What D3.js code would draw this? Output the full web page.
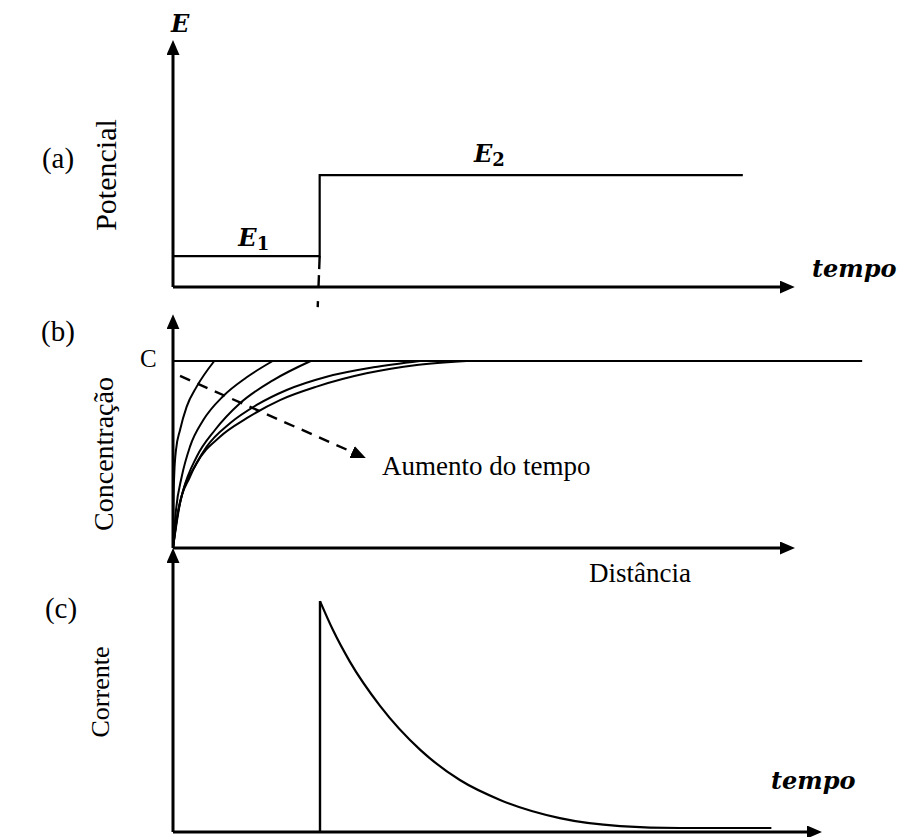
<!DOCTYPE html>
<html>
<head>
<meta charset="utf-8">
<script src="https://cdn.jsdelivr.net/npm/d3@7"></script>
<style>
  html, body { margin: 0; padding: 0; background: #fff; }
  svg { display: block; }
</style>
</head>
<body>
<script>
// ---------- DATA ----------
// Panel (a): potential step (time units 0..100, potential units 0..10)
const potentialTime  = [0, 22.6, 87.8];
const potentialValue = [1.25, 4.53, 4.53];
const stepLabels = ["E", "1", "E", "2"];

// Panel (b): concentration profiles (distance 0..100, C = 1)
const curve1X = [0, 0.08, 0.21, 0.48, 1.13, 2.2, 3.81, 6.64];
const curve1Y = [0, 0.257, 0.401, 0.524, 0.631, 0.756, 0.863, 1.0];
const curve2X = [0, 0.48, 1.4, 2.73, 4.87, 8.09, 11.85, 16.03];
const curve2Y = [0, 0.203, 0.381, 0.542, 0.684, 0.813, 0.913, 1.0];
const curve3X = [0, 0.59, 1.66, 3.81, 6.75, 10.77, 16.13, 22.14];
const curve3Y = [0, 0.150, 0.310, 0.488, 0.631, 0.774, 0.898, 1.0];
const curve4X = [0, 0.85, 2.73, 5.42, 9.16, 13.46, 18.28, 24.71, 32.2, 39.7];
const curve4Y = [0, 0.203, 0.381, 0.542, 0.667, 0.765, 0.845, 0.916, 0.966, 1.0];
const curve5X = [0, 1.13, 3.81, 7.56, 11.85, 17.2, 23.1, 31.1, 39.2, 47.2];
const curve5Y = [0, 0.239, 0.453, 0.595, 0.694, 0.791, 0.863, 0.934, 0.979, 1.0];
const bulkLineX = [0, 110.8];
const bulkValue = 1;
const timeArrowX = [1.13, 31.0];
const timeArrowY = [0.920, 0.481];

// Panel (c): current transient (time units 0..100, current 0..10)
const currentTime  = [22.65, 24.65, 27.27, 31.9, 38.1, 44.2, 50.4, 59.6, 68.9, 78.1, 92.2];
const currentValue = [8.13, 7.11, 5.99, 4.44, 2.89, 1.83, 1.13, 0.49, 0.21, 0.14, 0.14];

// axis extents (in data units)
const potAxisTimeEnd = 95.8, potAxisMax = 10;
const concAxisDistEnd = 100, concAxisMax = 1.25;
const curAxisTimeEnd = 100, curAxisMax = 10;

// ---------- SCALES ----------
const W = 904, H = 837;
const xTime = d3.scaleLinear().domain([0, 100]).range([173, 822]);
const yPot  = d3.scaleLinear().domain([0, 10]).range([287, 40]);
const xDist = d3.scaleLinear().domain([0, 100]).range([173, 795]);
const yConc = d3.scaleLinear().domain([0, 1]).range([548, 361]);
const yCur  = d3.scaleLinear().domain([0, 10]).range([832, 548]);

const svg = d3.select("body").append("svg")
  .attr("width", W).attr("height", H)
  .attr("viewBox", `0 0 ${W} ${H}`);
svg.append("rect").attr("width", W).attr("height", H).attr("fill", "#fff");

const defs = svg.append("defs");
defs.append("marker")
  .attr("id", "arrow").attr("markerUnits", "userSpaceOnUse")
  .attr("markerWidth", 16).attr("markerHeight", 14)
  .attr("refX", 5).attr("refY", 6.5).attr("orient", "auto")
  .append("path").attr("d", "M0,0 L15,6.5 L0,13 Z").attr("fill", "#000");

const serif = "'Liberation Serif','Times New Roman',serif";
const mathFont = "'DejaVu Serif',serif";

function arrowLine(x1, y1, x2, y2, width, dash) {
  const dx = x2 - x1, dy = y2 - y1, len = Math.hypot(dx, dy);
  const ex = x2 - dx / len * 10, ey = y2 - dy / len * 10;
  const l = svg.append("line")
    .attr("x1", x1).attr("y1", y1).attr("x2", ex).attr("y2", ey)
    .attr("stroke", "#000").attr("stroke-width", width)
    .attr("marker-end", "url(#arrow)");
  if (dash) l.attr("stroke-dasharray", dash);
  return l;
}

// ---------- PANEL (a) ----------
arrowLine(xTime(0), yPot(0), xTime(0), yPot(potAxisMax), 3);
arrowLine(xTime(0), yPot(0), xTime(potAxisTimeEnd), yPot(0), 3);

const potLine = d3.line()
  .x((d, i) => xTime(potentialTime[i]))
  .y((d, i) => yPot(potentialValue[i]))
  .curve(d3.curveStepAfter);
svg.append("path").datum(potentialTime).attr("d", potLine)
  .attr("fill", "none").attr("stroke", "#000").attr("stroke-width", 2.2);

svg.append("line")
  .attr("x1", xTime(potentialTime[1])).attr("x2", xTime(potentialTime[1]) - 2)
  .attr("y1", yPot(potentialValue[0])).attr("y2", 308)
  .attr("stroke", "#000").attr("stroke-width", 2.4)
  .attr("stroke-dasharray", "13 6 12 14 6");

svg.append("text").attr("x", 171).attr("y", 32)
  .attr("font-family", mathFont).attr("font-weight", "bold").attr("font-style", "italic")
  .attr("font-size", 24).text("E");

const e1 = svg.append("text")
  .attr("x", (xTime(0) + xTime(potentialTime[1])) / 2 - 8).attr("y", yPot(potentialValue[0]) - 10)
  .attr("font-family", mathFont).attr("font-weight", "bold").attr("font-style", "italic")
  .attr("font-size", 24);
e1.append("tspan").text(stepLabels[0]);
e1.append("tspan").attr("dy", 4).attr("font-size", 18).attr("font-style", "normal").text(stepLabels[1]);

const e2 = svg.append("text")
  .attr("x", 474).attr("y", yPot(potentialValue[1]) - 13)
  .attr("font-family", mathFont).attr("font-weight", "bold").attr("font-style", "italic")
  .attr("font-size", 24);
e2.append("tspan").text(stepLabels[2]);
e2.append("tspan").attr("dy", 4).attr("font-size", 18).attr("font-style", "normal").text(stepLabels[3]);

svg.append("text").attr("x", 812).attr("y", 277)
  .attr("font-family", mathFont).attr("font-weight", "bold").attr("font-style", "italic")
  .attr("font-size", 24).text("tempo");

svg.append("text").attr("transform", "translate(116,175) rotate(-90)")
  .attr("text-anchor", "middle").attr("font-family", serif).attr("font-size", 30).text("Potencial");
svg.append("text").attr("x", 58).attr("y", 168).attr("text-anchor", "middle")
  .attr("font-family", serif).attr("font-size", 29).text("(a)");

// ---------- PANEL (b) ----------
arrowLine(xDist(0), yConc(0), xDist(0), yConc(concAxisMax), 3);
arrowLine(xDist(0), yConc(0), xDist(concAxisDistEnd), yConc(0), 3);

svg.append("line")
  .attr("x1", xDist(bulkLineX[0])).attr("x2", xDist(bulkLineX[1]))
  .attr("y1", yConc(bulkValue)).attr("y2", yConc(bulkValue))
  .attr("stroke", "#000").attr("stroke-width", 2);

const concLine = d3.line().curve(d3.curveMonotoneX)
  .x(d => xDist(d[0])).y(d => yConc(d[1]));
[[curve1X, curve1Y], [curve2X, curve2Y], [curve3X, curve3Y], [curve4X, curve4Y], [curve5X, curve5Y]]
  .forEach(([xs, ys]) => {
    svg.append("path").datum(xs.map((x, i) => [x, ys[i]])).attr("d", concLine)
      .attr("fill", "none").attr("stroke", "#000").attr("stroke-width", 2);
  });

arrowLine(xDist(timeArrowX[0]), yConc(timeArrowY[0]), xDist(timeArrowX[1]), yConc(timeArrowY[1]), 2.4, "11 8");

svg.append("text").attr("x", 140).attr("y", 367)
  .attr("font-family", serif).attr("font-size", 25).text("C");
svg.append("text").attr("x", 382).attr("y", 475)
  .attr("font-family", serif).attr("font-size", 27).text("Aumento do tempo");
svg.append("text").attr("x", 589).attr("y", 582)
  .attr("font-family", serif).attr("font-size", 27).text("Distância");
svg.append("text").attr("transform", "translate(113,454) rotate(-90)")
  .attr("text-anchor", "middle").attr("font-family", serif).attr("font-size", 28).text("Concentração");
svg.append("text").attr("x", 58).attr("y", 341).attr("text-anchor", "middle")
  .attr("font-family", serif).attr("font-size", 29).text("(b)");

// ---------- PANEL (c) ----------
arrowLine(xTime(0), yCur(0), xTime(0), yCur(curAxisMax), 3);
arrowLine(xTime(0), yCur(0), xTime(curAxisTimeEnd), yCur(0), 3);

svg.append("line")
  .attr("x1", xTime(currentTime[0])).attr("x2", xTime(currentTime[0]))
  .attr("y1", yCur(0)).attr("y2", yCur(currentValue[0]))
  .attr("stroke", "#000").attr("stroke-width", 2.4);

const curLine = d3.line().curve(d3.curveMonotoneX)
  .x((d, i) => xTime(currentTime[i])).y((d, i) => yCur(currentValue[i]));
svg.append("path").datum(currentTime).attr("d", curLine)
  .attr("fill", "none").attr("stroke", "#000").attr("stroke-width", 2.2);

svg.append("text").attr("x", 771).attr("y", 789)
  .attr("font-family", mathFont).attr("font-weight", "bold").attr("font-style", "italic")
  .attr("font-size", 24).text("tempo");
svg.append("text").attr("transform", "translate(109,692) rotate(-90)")
  .attr("text-anchor", "middle").attr("font-family", serif).attr("font-size", 26).text("Corrente");
svg.append("text").attr("x", 61).attr("y", 618).attr("text-anchor", "middle")
  .attr("font-family", serif).attr("font-size", 29).text("(c)");
</script>
</body>
</html>
